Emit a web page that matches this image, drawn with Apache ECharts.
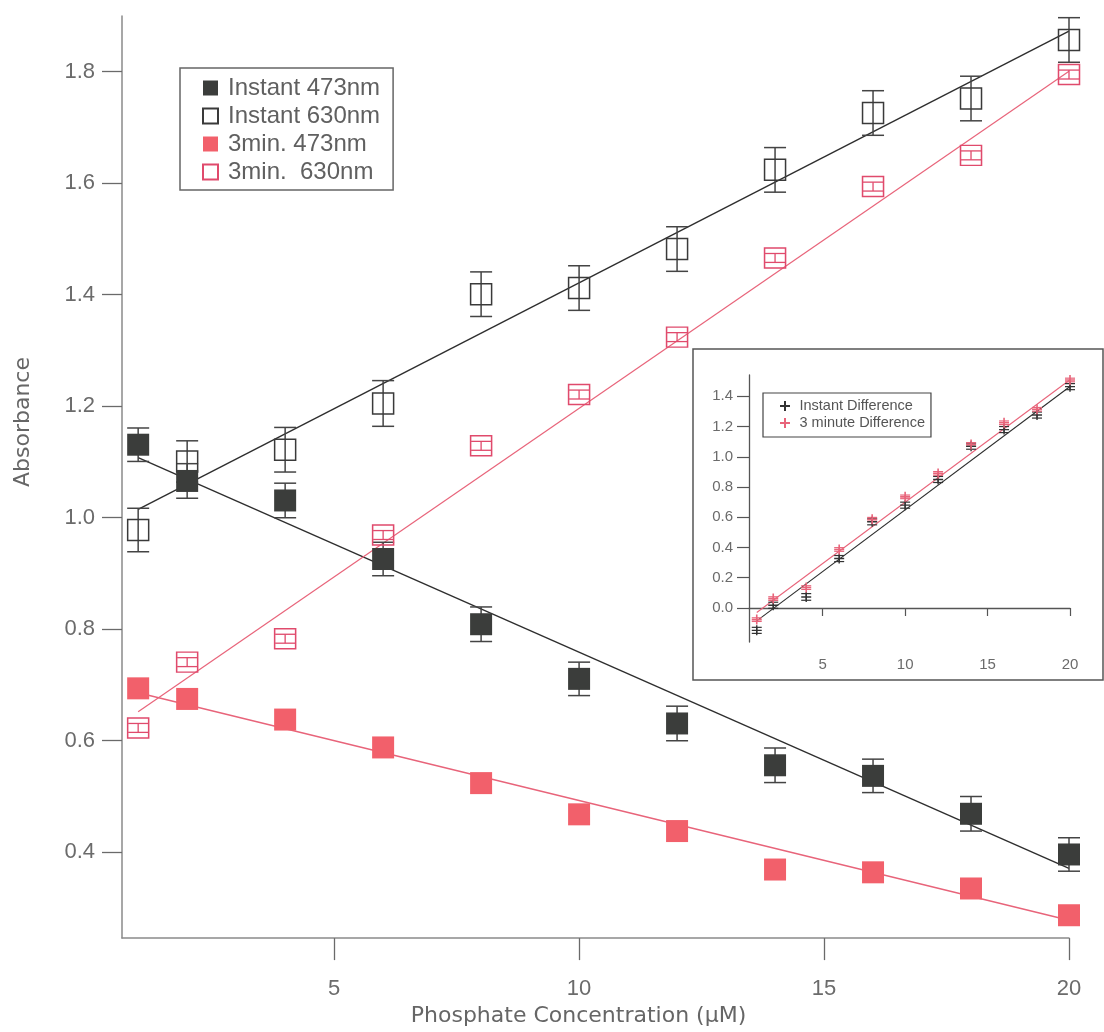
<!DOCTYPE html>
<html>
<head>
<meta charset="utf-8">
<title>Absorbance vs phosphate concentration</title>
<script src="https://cdn.jsdelivr.net/npm/echarts@6/dist/echarts.min.js"></script>
<style>
  html, body { margin: 0; padding: 0; background: #ffffff; }
  #chart { width: 1104px; height: 1032px; }
</style>
</head>
<body>
<div id="chart"></div>
<script>
// Phosphate concentrations (µM) shared by every series
const concentrations = [1, 2, 4, 6, 8, 10, 12, 14, 16, 18, 20];

// Absorbance readings, main plot
const instant473 = [1.131, 1.066, 1.031, 0.926, 0.809, 0.711, 0.631, 0.556, 0.537, 0.469, 0.396];
const instant473Err = [0.030, 0.031, 0.031, 0.030, 0.031, 0.030, 0.031, 0.031, 0.030, 0.031, 0.030];
const instant630 = [0.978, 1.101, 1.122, 1.205, 1.401, 1.412, 1.482, 1.624, 1.726, 1.752, 1.857];
const instant630Err = [0.039, 0.037, 0.040, 0.041, 0.040, 0.040, 0.040, 0.040, 0.040, 0.040, 0.040];
const min473 = [0.694, 0.675, 0.638, 0.588, 0.524, 0.468, 0.438, 0.369, 0.364, 0.335, 0.287];
const min630 = [0.623, 0.741, 0.783, 0.969, 1.129, 1.221, 1.324, 1.466, 1.594, 1.650, 1.795];
const min630Err = [0.008, 0.008, 0.008, 0.008, 0.008, 0.008, 0.008, 0.008, 0.008, 0.008, 0.008];

// Linear fit end points (x = 1 and x = 20)
const fitX = [1, 20];
const fitInstant473 = [1.108, 0.371];
const fitInstant630 = [1.015, 1.873];
const fitMin473 = [0.686, 0.278];
const fitMin630 = [0.652, 1.801];

// Inset: 630 nm minus 473 nm
const instantDiff = [-0.148, 0.018, 0.073, 0.327, 0.570, 0.680, 0.850, 1.070, 1.180, 1.276, 1.464];
const instantDiffErr = [0.020, 0.020, 0.022, 0.020, 0.020, 0.020, 0.020, 0.020, 0.020, 0.020, 0.020];
const minuteDiff = [-0.077, 0.062, 0.135, 0.387, 0.587, 0.735, 0.890, 1.082, 1.225, 1.314, 1.508];
const minuteDiffErr = [0.012, 0.012, 0.012, 0.012, 0.012, 0.012, 0.012, 0.012, 0.012, 0.012, 0.012];
const fitInstantDiff = [-0.085, 1.465];
const fitMinuteDiff = [-0.030, 1.510];

// Tick positions
const mainXTicks = [5, 10, 15, 20];
const mainYTicks = [0.4, 0.6, 0.8, 1.0, 1.2, 1.4, 1.6, 1.8];
const insetXTicks = [5, 10, 15, 20];
const insetYTicks = [0.0, 0.2, 0.4, 0.6, 0.8, 1.0, 1.2, 1.4];

const BLACK = '#3b3d3b';
const LINE_BLACK = '#2e2e2e';
const RED_FILL = '#f2606b';
const RED_LINE = '#e8647a';
const RED_OPEN = '#e04a6c';
const TICK_FONT = '"Liberation Sans", Arial, sans-serif';
const TITLE_FONT = '"DejaVu Sans", "Liberation Sans", sans-serif';

const pairs = (xs, ys) => xs.map((x, i) => [x, ys[i]]);
const bars = (xs, ys, es) => xs.map((x, i) => [x, ys[i] - es[i], ys[i] + es[i]]);

function errorBars(capHalf, color, width) {
  return function (params, api) {
    const x = api.value(0);
    const lo = api.coord([x, api.value(1)]);
    const hi = api.coord([x, api.value(2)]);
    const style = { stroke: color, lineWidth: width, fill: null };
    return {
      type: 'group',
      children: [
        { type: 'line', shape: { x1: lo[0], y1: lo[1], x2: hi[0], y2: hi[1] }, style },
        { type: 'line', shape: { x1: lo[0] - capHalf, y1: lo[1], x2: lo[0] + capHalf, y2: lo[1] }, style },
        { type: 'line', shape: { x1: hi[0] - capHalf, y1: hi[1], x2: hi[0] + capHalf, y2: hi[1] }, style }
      ]
    };
  };
}

function errorSeries(name, grid, data, capHalf, color, width) {
  return {
    name, type: 'custom', xAxisIndex: grid, yAxisIndex: grid,
    renderItem: errorBars(capHalf, color, width),
    encode: { x: 0, y: [1, 2] },
    data, z: 3, silent: true
  };
}

function fitSeries(name, grid, ys, color, width) {
  return {
    name, type: 'line', xAxisIndex: grid, yAxisIndex: grid,
    data: pairs(fitX, ys), showSymbol: false, symbol: 'none',
    lineStyle: { color, width }, z: 2, silent: true
  };
}

const squareIcon = 'path://M0,0H10V10H0Z';
const plusIcon = 'path://M5,0V10M0,5H10';

const chart = echarts.init(document.getElementById('chart'), null, { renderer: 'canvas' });

chart.setOption({
  backgroundColor: '#ffffff',
  animation: false,
  textStyle: { fontFamily: TICK_FONT },
  grid: [
    { left: 122, top: 16, right: 35, bottom: 89 },
    { left: 749, top: 375, right: 34, bottom: 390 }
  ],
  // frame around the inset plot
  graphic: [{
    type: 'rect',
    shape: { x: 693, y: 349, width: 410, height: 331 },
    style: { fill: null, stroke: '#555555', lineWidth: 1.5 },
    silent: true
  }],
  legend: [
    {
      data: [
        { name: 'Instant 473nm' },
        { name: 'Instant 630nm' },
        { name: '3min. 473nm' },
        { name: '3min.  630nm' }
      ],
      orient: 'vertical', left: 180, top: 68,
      padding: [8, 13, 6, 22],
      itemWidth: 25, itemHeight: 15, itemGap: 4,
      icon: squareIcon,
      borderColor: '#666666', borderWidth: 1.5,
      selectedMode: false,
      textStyle: { fontSize: 24, lineHeight: 24, color: '#606060', fontFamily: TICK_FONT }
    },
    {
      data: [{ name: 'Instant Difference' }, { name: '3 minute Difference' }],
      orient: 'vertical', left: 763, top: 393,
      padding: [5, 6, 6, 16],
      itemWidth: 19, itemHeight: 10, itemGap: 1,
      icon: plusIcon,
      borderColor: '#444444', borderWidth: 1.2,
      selectedMode: false,
      textStyle: { fontSize: 14.5, lineHeight: 16, color: '#555555', fontFamily: TICK_FONT }
    }
  ],
  xAxis: [
    {
      type: 'value', gridIndex: 0, min: 0.67, max: 20,
      name: 'Phosphate Concentration (\u03bcM)', nameLocation: 'middle', nameGap: 56,
      nameTextStyle: { fontFamily: TITLE_FONT, fontSize: 22, color: '#666666', padding: [0, 34, 0, 0] },
      axisLine: { lineStyle: { color: '#8a8a8a', width: 1.5 } },
      axisTick: { customValues: mainXTicks, length: 22, lineStyle: { color: '#6a6a6a', width: 1.3 } },
      axisLabel: { customValues: mainXTicks, fontSize: 22, color: '#6b6b6b', margin: 40 },
      splitLine: { show: false }
    },
    {
      type: 'value', gridIndex: 1, min: 0.53, max: 20,
      axisLine: { lineStyle: { color: '#555555', width: 1.3 } },
      axisTick: { customValues: insetXTicks, length: 8, lineStyle: { color: '#555555', width: 1.2 } },
      axisLabel: { customValues: insetXTicks, fontSize: 15, color: '#6b6b6b', margin: 15 },
      splitLine: { show: false }
    }
  ],
  yAxis: [
    {
      type: 'value', gridIndex: 0, min: 0.246, max: 1.9,
      name: 'Absorbance', nameLocation: 'middle', nameGap: 88,
      nameTextStyle: { fontFamily: TITLE_FONT, fontSize: 22, color: '#666666', padding: [0, 0, 0, 110] },
      axisLine: { show: true, lineStyle: { color: '#8a8a8a', width: 1.5 } },
      axisTick: { show: true, customValues: mainYTicks, length: 20, lineStyle: { color: '#6a6a6a', width: 1.3 } },
      axisLabel: { customValues: mainYTicks, fontSize: 22, color: '#6b6b6b', margin: 27,
        formatter: v => v.toFixed(1) },
      splitLine: { show: false }
    },
    {
      type: 'value', gridIndex: 1, min: -0.225, max: 1.541,
      axisLine: { show: true, lineStyle: { color: '#555555', width: 1.3 } },
      axisTick: { show: true, customValues: insetYTicks, length: 12, lineStyle: { color: '#555555', width: 1.2 } },
      axisLabel: { customValues: insetYTicks, fontSize: 15, color: '#6b6b6b', margin: 16,
        formatter: v => v.toFixed(1) },
      splitLine: { show: false }
    }
  ],
  series: [
    // fit lines
    fitSeries('fit instant 630', 0, fitInstant630, LINE_BLACK, 1.4),
    fitSeries('fit instant 473', 0, fitInstant473, LINE_BLACK, 1.4),
    fitSeries('fit 3min 473', 0, fitMin473, RED_LINE, 1.4),
    fitSeries('fit 3min 630', 0, fitMin630, RED_LINE, 1.2),
    // error bars
    errorSeries('err instant 630', 0, bars(concentrations, instant630, instant630Err), 11, '#444444', 1.5),
    errorSeries('err instant 473', 0, bars(concentrations, instant473, instant473Err), 11, '#444444', 1.5),
    errorSeries('err 3min 630', 0, bars(concentrations, min630, min630Err), 10, RED_OPEN, 1.3),
    // markers
    {
      name: 'Instant 630nm', type: 'scatter', xAxisIndex: 0, yAxisIndex: 0,
      data: pairs(concentrations, instant630), symbol: 'rect', symbolSize: 21,
      itemStyle: { color: 'rgba(0,0,0,0)', borderColor: '#3a3a3a', borderWidth: 1.5, opacity: 1 },
      z: 4, silent: true
    },
    {
      name: 'Instant 473nm', type: 'scatter', xAxisIndex: 0, yAxisIndex: 0,
      data: pairs(concentrations, instant473), symbol: 'rect', symbolSize: 22,
      itemStyle: { color: BLACK, opacity: 1 },
      z: 5, silent: true
    },
    {
      name: '3min. 473nm', type: 'scatter', xAxisIndex: 0, yAxisIndex: 0,
      data: pairs(concentrations, min473), symbol: 'rect', symbolSize: 22,
      itemStyle: { color: RED_FILL, opacity: 1 },
      z: 4, silent: true
    },
    {
      name: '3min.  630nm', type: 'scatter', xAxisIndex: 0, yAxisIndex: 0,
      data: pairs(concentrations, min630), symbol: 'rect', symbolSize: [21, 20],
      itemStyle: { color: 'rgba(0,0,0,0)', borderColor: RED_OPEN, borderWidth: 1.5, opacity: 1 },
      z: 4, silent: true
    },
    // inset
    {
      name: 'fit instant diff', type: 'line', xAxisIndex: 1, yAxisIndex: 1,
      data: pairs(fitX, fitInstantDiff), showSymbol: false, symbol: 'none',
      lineStyle: { color: LINE_BLACK, width: 1.1 }, z: 2, silent: true
    },
    {
      name: 'fit minute diff', type: 'line', xAxisIndex: 1, yAxisIndex: 1,
      data: pairs(fitX, fitMinuteDiff), showSymbol: false, symbol: 'none',
      lineStyle: { color: RED_LINE, width: 1.1 }, z: 2, silent: true
    },
    errorSeries('err instant diff', 1, bars(concentrations, instantDiff, instantDiffErr), 5, '#333333', 1.2),
    errorSeries('err minute diff', 1, bars(concentrations, minuteDiff, minuteDiffErr), 5, RED_LINE, 1.2),
    {
      name: 'Instant Difference', type: 'scatter', xAxisIndex: 1, yAxisIndex: 1,
      data: pairs(concentrations, instantDiff), symbol: plusIcon, symbolSize: 10,
      itemStyle: { color: 'rgba(0,0,0,0)', borderColor: '#333333', borderWidth: 1.4, opacity: 1 },
      z: 4, silent: true
    },
    {
      name: '3 minute Difference', type: 'scatter', xAxisIndex: 1, yAxisIndex: 1,
      data: pairs(concentrations, minuteDiff), symbol: plusIcon, symbolSize: 10,
      itemStyle: { color: 'rgba(0,0,0,0)', borderColor: RED_LINE, borderWidth: 1.6, opacity: 1 },
      z: 5, silent: true
    }
  ]
});
</script>
</body>
</html>
